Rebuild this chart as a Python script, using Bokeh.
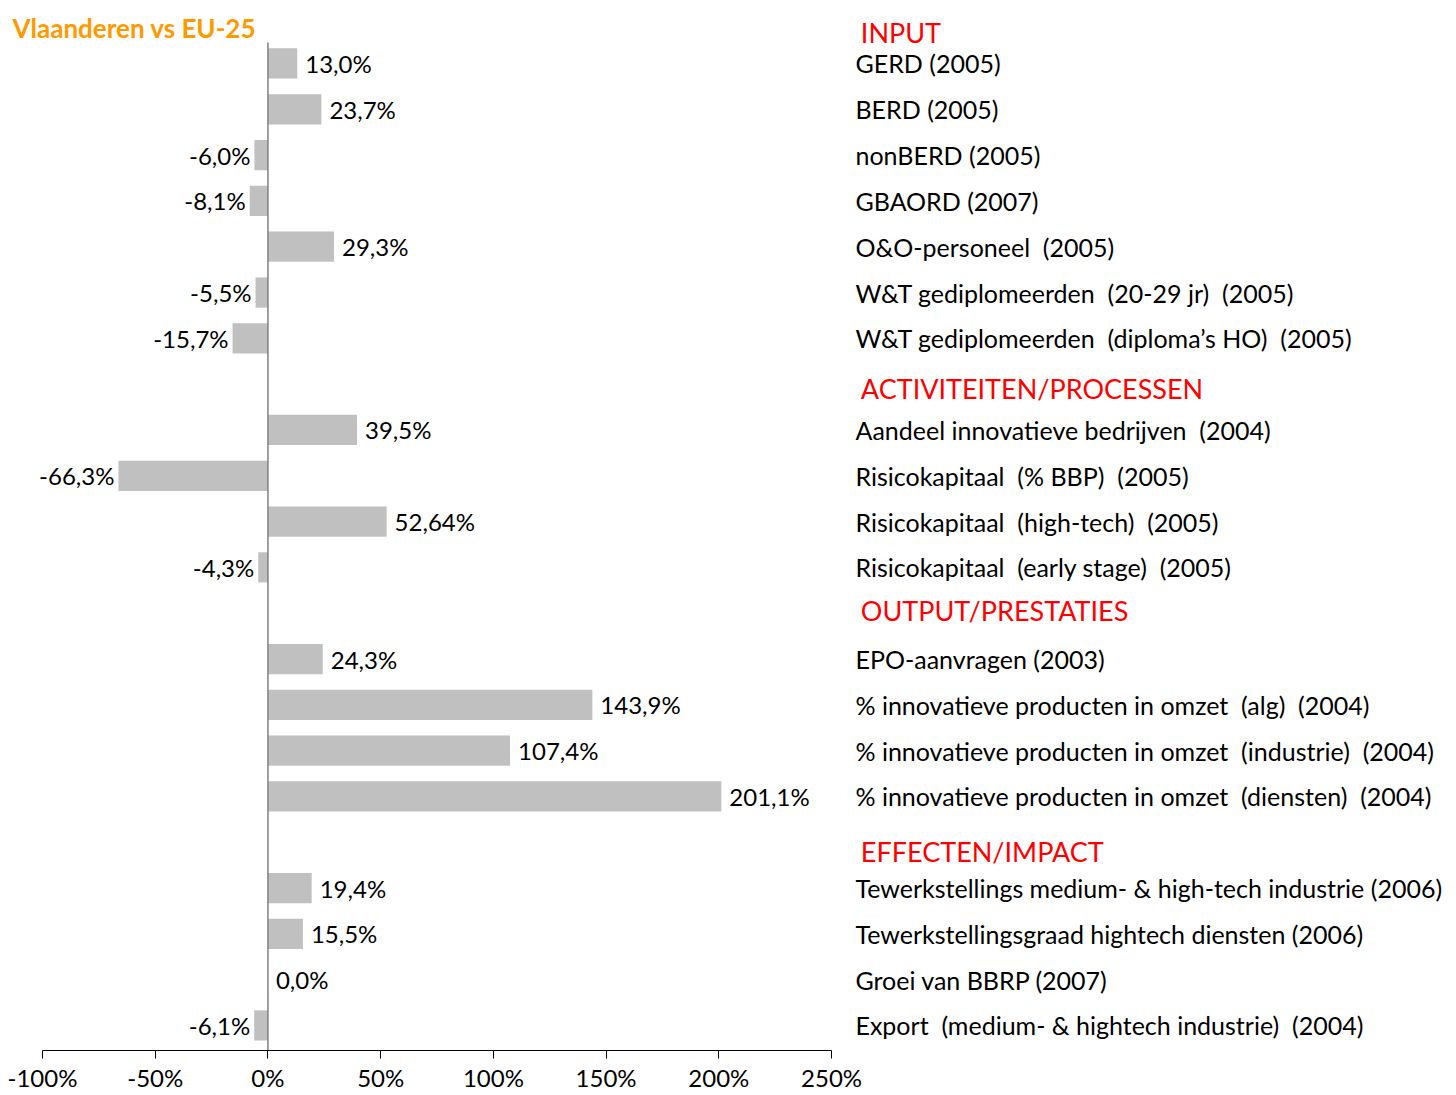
from bokeh.plotting import figure
from bokeh.models import ColumnDataSource, Range1d, FixedTicker, PrintfTickFormatter, Label
from bokeh.core.properties import value
from bokeh.embed import file_html
from bokeh.resources import INLINE

# ---- data ----
D = "\u00a0 "  # wider gap, as in the original
categories = [
    "GERD (2005)",
    "BERD (2005)",
    "nonBERD (2005)",
    "GBAORD (2007)",
    "O&O-personeel" + D + "(2005)",
    "W&T gediplomeerden" + D + "(20-29 jr)" + D + "(2005)",
    "W&T gediplomeerden" + D + "(diploma\u2019s HO)" + D + "(2005)",
    "Aandeel innovatieve bedrijven" + D + "(2004)",
    "Risicokapitaal" + D + "(% BBP)" + D + "(2005)",
    "Risicokapitaal" + D + "(high-tech)" + D + "(2005)",
    "Risicokapitaal" + D + "(early stage)" + D + "(2005)",
    "EPO-aanvragen (2003)",
    "% innovatieve producten in omzet" + D + "(alg)" + D + "(2004)",
    "% innovatieve producten in omzet" + D + "(industrie)" + D + "(2004)",
    "% innovatieve producten in omzet" + D + "(diensten)" + D + "(2004)",
    "Tewerkstellings medium- & high-tech industrie (2006)",
    "Tewerkstellingsgraad hightech diensten (2006)",
    "Groei van BBRP (2007)",
    "Export" + D + "(medium- & hightech industrie)" + D + "(2004)",
]
values = [13.0, 23.7, -6.0, -8.1, 29.3, -5.5, -15.7,
          39.5, -66.3, 52.64, -4.3,
          24.3, 143.9, 107.4, 201.1,
          19.4, 15.5, 0.0, -6.1]
value_labels = ["13,0%", "23,7%", "-6,0%", "-8,1%", "29,3%", "-5,5%", "-15,7%",
                "39,5%", "-66,3%", "52,64%", "-4,3%",
                "24,3%", "143,9%", "107,4%", "201,1%",
                "19,4%", "15,5%", "0,0%", "-6,1%"]
sections = ["INPUT", "ACTIVITEITEN/PROCESSEN", "OUTPUT/PRESTATIES", "EFFECTEN/IMPACT"]
section_sizes = [7, 4, 4, 4]
x_ticks = [-100, -50, 0, 50, 100, 150, 200, 250]
title_text = "Vlaanderen vs EU-25"

# ---- layout (each section after the first gets one empty slot for its header) ----
slots = []
header_slots = []
s = 0
for i, n in enumerate(section_sizes):
    if i > 0:
        header_slots.append(s)
        s += 1
    else:
        header_slots.append(-0.68)
    for k in range(n):
        slots.append(s)
        s += 1
header_y = [header_slots[0], header_slots[1] + 0.09, header_slots[2] - 0.06, header_slots[3] + 0.2]

FONT = "Lato"
W, H = 1456, 1095
X0, X1 = -118.63, 527.2
Y_BOTTOM, Y_TOP = 21.546, -1.375

p = figure(width=W, height=H, output_backend="svg", toolbar_location=None,
           x_range=Range1d(X0, X1), y_range=Range1d(Y_BOTTOM, Y_TOP),
           y_axis_location=None, min_border_left=0, min_border_right=0,
           min_border_top=0, min_border_bottom=45)
p.outline_line_color = None
p.grid.visible = False
p.background_fill_color = "white"
p.border_fill_color = "white"

src = ColumnDataSource(dict(
    y=slots, v=values, lab=value_labels, cat=categories,
    zero=[0] * len(values),
    xoff=[8 if v >= 0 else -4 for v in values],
    align=["left" if v >= 0 else "right" for v in values],
    catx=[260.6] * len(values),
))

p.hbar(y="y", left="zero", right="v", height=0.66, source=src,
       fill_color="#C0C0C0", line_color=None)

# vertical zero axis line
p.segment(x0=[0], y0=[-0.458], x1=[0], y1=[Y_BOTTOM], line_color="#808080", line_width=1.5)

p.text(x="v", y="y", text="lab", x_offset="xoff", text_align="align",
       text_baseline="middle", text_font=value(FONT), text_font_size="24px",
       text_color="black", source=src)

p.text(x="catx", y="y", text="cat", text_align="left", text_baseline="middle",
       text_font=value(FONT), text_font_size="25px", text_color="black", source=src)

hsrc = ColumnDataSource(dict(x=[263.0] * len(sections), y=header_y, t=sections))
p.text(x="x", y="y", text="t", text_align="left", text_baseline="middle",
       text_font=value(FONT), text_font_size="27px", text_color="#FF0000", source=hsrc)

p.add_layout(Label(x=-113.3, y=-0.764, text=title_text, text_font=FONT,
                   text_font_size="26px", text_font_style="bold",
                   text_color="#FF9900", text_baseline="middle"))

ax = p.xaxis[0]
ax.ticker = FixedTicker(ticks=x_ticks)
ax.formatter = PrintfTickFormatter(format="%d%%")
ax.bounds = (-100, 250)
ax.axis_line_color = "black"
ax.axis_line_width = 1
ax.major_tick_line_color = "black"
ax.major_tick_in = 0
ax.major_tick_out = 8
ax.minor_tick_line_color = None
ax.major_label_text_font = FONT
ax.major_label_text_font_size = "24px"
ax.major_label_text_color = "black"
ax.major_label_standoff = 4

open("out.html", "w").write(file_html(p, INLINE))
